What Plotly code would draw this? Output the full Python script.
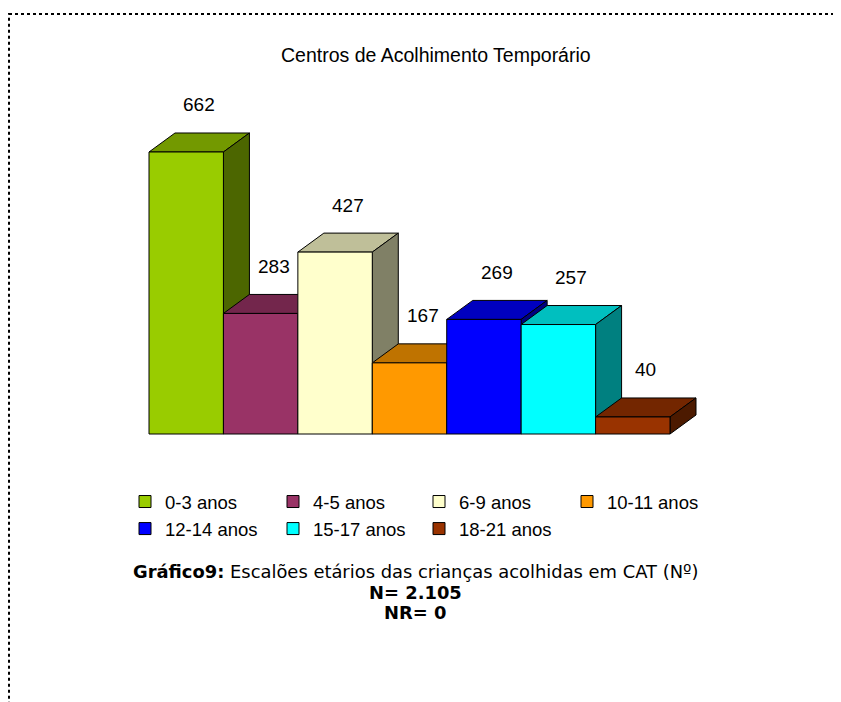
import plotly.graph_objects as go

# ---- data ----
categories = ["0-3 anos", "4-5 anos", "6-9 anos", "10-11 anos", "12-14 anos", "15-17 anos", "18-21 anos"]
values = [662, 283, 427, 167, 269, 257, 40]
front_colors = ["#99CC00", "#993366", "#FFFFCC", "#FF9900", "#0000FF", "#00FFFF", "#993300"]
chart_title = "Centros de Acolhimento Temporário"
caption_lines = ["<b>Gráfico9:</b> Escalões etários das crianças acolhidas em CAT (Nº)",
                 "<b>N= 2.105</b>", "<b>NR= 0</b>"]

# ---- layout geometry (screen pixels; page body has an 8px margin) ----
OFF = 8
W, H = 841 - OFF, 702 - OFF
PX_PER_X = 74.43
PX_PER_Y = 0.426
BAR0_LEFT = 149 - OFF
BASE_Y = 434 - OFF
dx = 26 / PX_PER_X
dy = 19 / PX_PER_Y

x_min = -0.5 - BAR0_LEFT / PX_PER_X
x_max = x_min + W / PX_PER_X
y_max = BASE_Y / PX_PER_Y
y_min = -(H - BASE_Y) / PX_PER_Y

# legend is laid out in 4 columns x 2 rows
LEGEND_COLS = 4
legend_col_px = [125, 273, 419, 567]


def sx(px):
    return (px - OFF) / W


def sy(py):
    return 1 - (py - OFF) / H


def shade(hexcol, f):
    h = hexcol.lstrip("#")
    r, g, b = (int(h[i:i + 2], 16) for i in (0, 2, 4))
    return "rgb(%d,%d,%d)" % (round(r * f), round(g * f), round(b * f))


def legend_name(col):
    return "legend" if col == 0 else "legend%d" % (col + 1)


fig = go.Figure()
shapes = []
annotations = []
for i, (cat, v, col) in enumerate(zip(categories, values, front_colors)):
    fig.add_trace(go.Bar(
        x=[i], y=[v], width=1, name=cat,
        legend=legend_name(i % LEGEND_COLS),
        marker=dict(color=col, line=dict(color="black", width=1)),
        hoverinfo="name+y",
    ))
    xl, xr = i - 0.5, i + 0.5
    # top face
    shapes.append(dict(
        type="path", xref="x", yref="y", layer="below",
        path="M %f,%f L %f,%f L %f,%f L %f,%f Z" % (xl, v, xr, v, xr + dx, v + dy, xl + dx, v + dy),
        fillcolor=shade(col, 0.75), line=dict(color="black", width=1)))
    # side face
    shapes.append(dict(
        type="path", xref="x", yref="y", layer="below",
        path="M %f,%f L %f,%f L %f,%f L %f,%f Z" % (xr, 0, xr, v, xr + dx, v + dy, xr + dx, dy),
        fillcolor=shade(col, 0.5), line=dict(color="black", width=1)))
    annotations.append(dict(
        x=i + dx / 2, y=v + dy, xref="x", yref="y", text=str(v), showarrow=False,
        yshift=28, font=dict(family="Liberation Sans, Arial", size=19, color="black")))

# dotted frame (only top and left edges visible)
shapes.append(dict(type="rect", xref="paper", yref="paper",
                   x0=sx(9), y0=sy(14), x1=1.05, y1=-0.05,
                   line=dict(color="black", width=2, dash="dot"), layer="above"))

annotations.append(dict(
    x=sx(436), y=sy(55), xref="paper", yref="paper", text=chart_title,
    showarrow=False, xanchor="center", yanchor="middle",
    font=dict(family="Liberation Sans, Arial", size=19.5, color="black")))
for line, py in zip(caption_lines, [571, 592, 612]):
    annotations.append(dict(
        x=sx(415), y=sy(py), xref="paper", yref="paper", text=line,
        showarrow=False, xanchor="center", yanchor="middle",
        font=dict(family="DejaVu Sans", size=17.9, color="black")))

legend_style = dict(orientation="v", xanchor="left", yanchor="top",
                    traceorder="normal",
                    font=dict(family="Liberation Sans, Arial", size=18.5, color="black"),
                    bgcolor="rgba(0,0,0,0)", itemclick=False, itemdoubleclick=False,
                    tracegroupgap=0)
legends = {}
for c, px in enumerate(legend_col_px):
    legends[legend_name(c)] = dict(legend_style, x=sx(px), y=sy(483))

fig.update_layout(
    width=W, height=H,
    margin=dict(l=0, r=0, t=0, b=0),
    paper_bgcolor="white", plot_bgcolor="white",
    barmode="overlay",
    xaxis=dict(range=[x_min, x_max], visible=False, fixedrange=True),
    yaxis=dict(range=[y_min, y_max], visible=False, fixedrange=True),
    shapes=shapes, annotations=annotations,
    showlegend=True,
    **legends,
)

fig.write_html("out.html")
